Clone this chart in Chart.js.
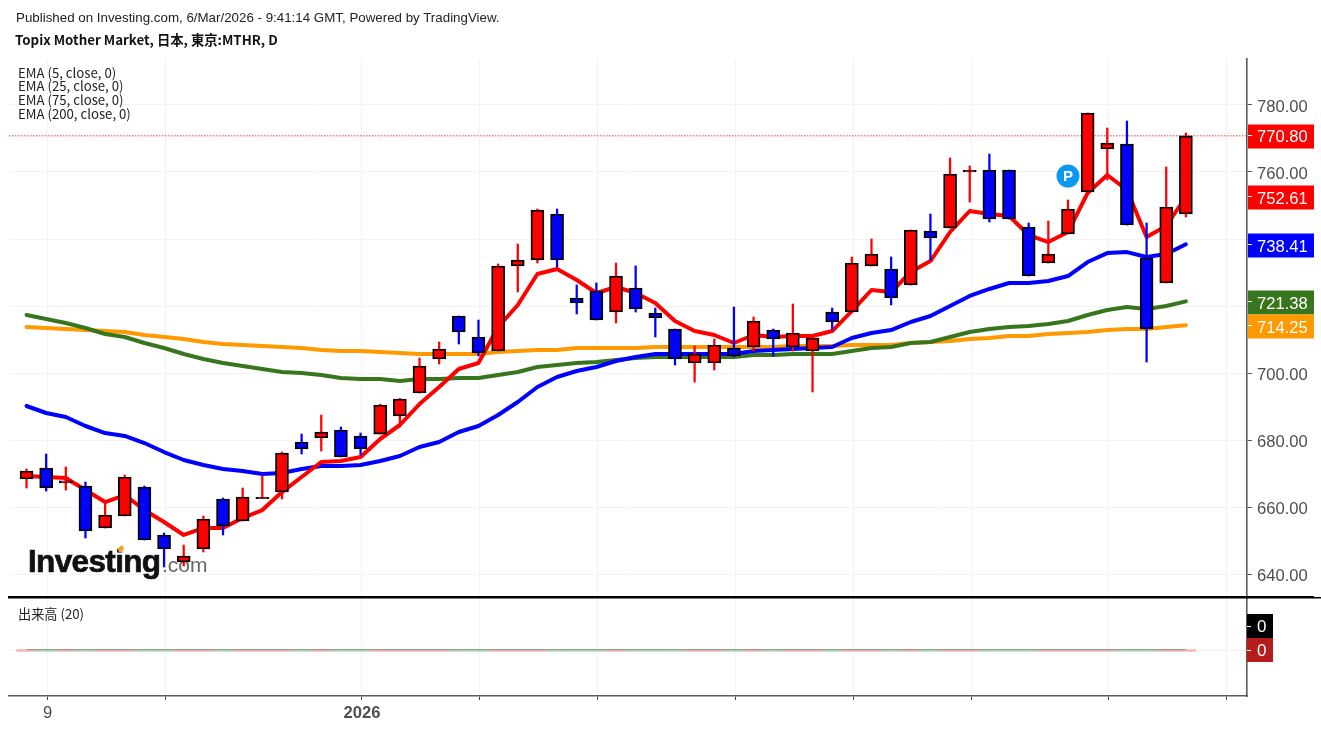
<!DOCTYPE html>
<html><head><meta charset="utf-8">
<script src="https://cdn.jsdelivr.net/npm/chart.js@4"></script>
<style>
html,body{margin:0;padding:0;background:#fff;width:1321px;height:729px;overflow:hidden}
canvas{position:absolute;left:0;top:0}
.t{position:absolute;white-space:nowrap;color:#222;line-height:14px}
</style></head><body>
<canvas id="c" width="1321" height="729"></canvas>
<div class="t" style="left:16px;top:11px;font:13.33px/14px 'Liberation Sans';color:#222">Published on Investing.com, 6/Mar/2026 - 9:41:14 GMT, Powered by TradingView.</div>
<div class="t" style="left:15px;top:32px;font:bold 13.33px/16px 'Noto Sans CJK JP';color:#111">Topix Mother Market, 日本, 東京:MTHR, D</div>
<div class="t" style="left:18px;top:66px;font:13.2px/14px 'Noto Sans CJK JP'">EMA (5, close, 0)</div>
<div class="t" style="left:18px;top:79px;font:13.2px/14px 'Noto Sans CJK JP'">EMA (25, close, 0)</div>
<div class="t" style="left:18px;top:93px;font:13.2px/14px 'Noto Sans CJK JP'">EMA (75, close, 0)</div>
<div class="t" style="left:18px;top:107px;font:13.2px/14px 'Noto Sans CJK JP'">EMA (200, close, 0)</div>
<div class="t" style="left:18px;top:607px;font:13.2px/14px 'Noto Sans CJK JP'">出来高 (20)</div>
<script>
const opens=[668.36,671.64,667.2,666.27,653.73,657.32,665.97,651.65,643.58,647.46,662.39,655.82,662.5,664.47,679.4,680.6,682.98,681.2,681.78,687.16,694.02,704.18,717.02,710.75,706.56,731.95,733.73,747.46,722.39,724.48,718.2,725.38,717.9,713.13,702.98,702.98,707.46,707.76,712.83,707.76,706.56,718.2,718.2,731.95,731.05,726.27,742.39,743.28,760,760.6,760.6,743.58,732.83,741.49,754.03,766.87,768.36,734.33,726.87,747.46];
const closes=[670.74,665.67,667.8,652.83,657.62,668.95,650.15,647.46,645.38,656.42,654.33,662.99,662.9,676.11,677.31,682.38,674.93,677.31,690.45,692.24,702.09,707.16,712.24,705.97,731.95,733.73,748.66,733.73,720.9,715.82,728.95,719.1,716.42,704.18,705.67,708.36,705.08,715.52,710.15,711.94,710.45,715.22,732.83,735.52,722.39,742.69,740.3,759.4,760.6,745.97,745.97,728.95,735.52,748.96,777.61,768.66,744.18,713.13,749.55,770.8];
const highs=[671.34,675.81,671.94,667.46,661.2,669.55,666.27,652.25,648.66,657.32,662.69,665.67,669.25,676.41,681.78,687.46,683.88,682.08,690.7,692.4,704.48,709.25,717.02,715.82,732.55,738.5,748.96,748.96,726.27,726.87,732.83,731.95,719.4,713.13,708.06,710.15,719.7,716.72,713.13,720.6,710.45,719.4,734.63,740,734.63,742.69,747.46,764.18,761.8,765.37,760.6,744.77,745.37,751.64,777.61,773.14,775.22,744.77,761.5,771.64];
const lows=[665.67,664.77,665.07,650.75,653.73,657.32,650.15,642.09,642.39,646.56,651.65,655.82,662.5,662.39,675.81,676.71,674.93,675.52,681.78,683.88,694.02,702.68,708.65,705.08,706.56,724.18,732.83,731.65,717.62,715.82,714.92,718.2,710.75,702.38,697.31,700.89,704.78,706.56,705.08,706.56,694.32,712.83,718.2,731.95,720.3,726.27,733.73,743.28,751.04,745.07,745.97,728.95,732.83,741.49,754.03,757.61,744.18,703.28,726.87,746.57];
const ema5=[669.25,668.95,668.65,665.07,661.49,663.58,659.1,655.52,651.65,653.73,653.73,656.72,659.1,664.47,668.95,673.43,673.73,674.93,680.3,684.48,690.74,695.82,701.19,702.98,713.73,720.3,729.55,731.05,727.76,723.88,725.67,723.88,720.9,715.52,712.53,711.34,708.95,711.34,710.75,711.04,711.04,712.53,718.5,724.78,724.18,730.15,733.43,742.09,748.36,747.46,746.86,741.19,739.1,742.09,753.73,759.1,754.63,740.6,743.88,752.61];
const ema25=[690.15,688.06,686.86,684.18,682.08,681.2,679.1,676.41,674.03,672.54,671.34,670.74,669.85,670.15,671.34,672.24,672.24,672.54,673.73,675.22,677.91,679.4,682.38,684.18,687.46,691.34,695.82,698.8,700.59,701.79,703.58,704.78,705.67,705.67,705.67,705.67,705.67,706.56,706.86,707.16,707.46,707.76,710.45,711.94,712.83,715.22,717.02,720,722.99,725.08,726.87,726.87,727.46,728.95,733.13,735.8,736.1,734.63,735.52,738.41];
const ema75=[717.31,716.12,714.92,713.43,711.64,710.75,708.95,707.46,705.67,704.18,702.98,702.09,701.19,700.3,700,699.4,698.51,698.21,698.21,697.61,698.21,698.21,698.51,698.51,699.4,700.3,701.79,702.38,702.98,703.28,703.88,704.48,704.78,704.78,704.78,704.78,704.78,705.37,705.37,705.67,705.67,705.67,706.56,707.46,707.76,708.95,709.25,710.75,712.24,713.13,713.73,714.03,714.63,715.52,717.31,718.8,719.7,719.1,720,721.38];
const ema200=[713.73,713.43,713.13,712.83,712.53,712.24,711.34,710.75,710.15,709.25,708.65,708.36,708.06,707.76,707.46,706.86,706.56,706.56,706.27,705.97,705.67,705.67,705.67,705.67,706.27,706.56,706.86,706.86,707.46,707.46,707.46,707.46,707.76,707.76,707.76,707.76,707.76,707.76,707.76,708.06,708.06,708.06,708.36,708.36,708.36,708.95,709.25,709.55,710.15,710.45,711.04,711.04,711.64,711.94,712.24,712.83,713.13,713.13,713.73,714.25];
const volumes=[0,0,0,0,0,0,0,0,0,0,0,0,0,0,0,0,0,0,0,0,0,0,0,0,0,0,0,0,0,0,0,0,0,0,0,0,0,0,0,0,0,0,0,0,0,0,0,0,0,0,0,0,0,0,0,0,0,0,0,0];
const volumeMA=[0.8,0.8,0.8,0.8,0.8,0.8,0.8,0.8,0.8,0.8,0.8,0.8,0.8,0.8,0.8,0.8,0.8,0.8,0.8,0.8,0.8,0.8,0.8,0.8,0.8,0.8,0.8,0.8,0.8,0.8,0.8,0.8,0.8,0.8,0.8,0.8,0.8,0.8,0.8,0.8,0.8,0.8,0.8,0.8,0.8,0.8,0.8,0.8,0.8,0.8,0.8,0.8,0.8,0.8,0.8,0.8,0.8,0.8,0.8,0.8];
const priceTicks=[640,660,680,700,720,740,760,780];
const timeTicks=[1.07,7.07,17.07,23.07,29.07,36.07,42.07,48.07,55.07,61.07];
const timeLabels=['9','','2026','','','','','','',''];
const boldLabel='2026';
const lastPrice=770.8;
const pivotIndex=53, pivotPrice=758.8;

const UP='#ff0000',DOWN='#0000ff',GRID='#f3f3f3',AXIS='#5a5a5a',TEXT='#4f4f4f';
const idx=opens.map((_,i)=>i);
const up=i=>closes[i]>=opens[i];
const xMin=-0.891,xMax=62.11;

const tags=[
 {v:lastPrice,t:'770.80',c:'#ff0000'},
 {v:ema5[59],t:'752.61',c:'#ff0000'},
 {v:ema25[59],t:'738.41',c:'#0000ff'},
 {v:ema75[59],t:'721.38',c:'#38761d'},
 {v:ema200[59],t:'714.25',c:'#ff9900'}
];

const logo={id:'logo',beforeDatasetsDraw(ch){
  const c=ch.ctx;c.save();
  c.filter='blur(0.7px)';
  c.fillStyle='#111';c.strokeStyle='#111';c.lineWidth=0.7;c.font='bold 31.5px "Liberation Sans"';c.letterSpacing='-0.65px';
  c.textAlign='left';c.textBaseline='alphabetic';
  c.fillText('Investing',28,572);c.strokeText('Investing',28,572);
  c.fillStyle='#f5a623';c.beginPath();c.ellipse(121,549,2.5,3.5,0.5,0,7);c.fill();
  c.fillStyle='#666';c.font='21px "Liberation Sans"';c.letterSpacing='0px';
  c.fillText('.com',162,572);
  c.restore();
}};

const labelNudge={id:'labelNudge',beforeDraw(ch){
  ch.scales.y.getLabelItems(ch.chartArea).forEach(it=>{it.options.translation[1]+=2.5;});
}};

const overlay={id:'overlay',afterDraw(ch){
  const c=ch.ctx,y=ch.scales.y;c.save();
  c.fillStyle='#000';c.fillRect(8,596,1306,2.5);c.fillRect(1314,597,7,1.5);
  c.font='16.6px "Liberation Sans"';c.textBaseline='middle';c.textAlign='left';
  tags.forEach((g,i)=>{
    const p=Math.floor(y.getPixelForValue(g.v));
    c.fillStyle=g.c;c.fillRect(1248,p-10.5,66,24);
    c.fillStyle='#fff';c.fillRect(1248,p,4,1);
    c.fillText(g.t,1257,p+(i?3:2));
  });
  c.fillStyle='#000';c.fillRect(1247,614,26,24);
  c.fillStyle='#b71c1c';c.fillRect(1247,638,26,24);
  c.fillStyle='#fff';c.fillRect(1247,626,4,1);c.fillRect(1247,650,4,1);
  c.font='17px "Liberation Sans"';c.fillText('0',1257,627);c.fillText('0',1257,651);
  const px=ch.scales.x.getPixelForValue(pivotIndex),py=y.getPixelForValue(pivotPrice);
  c.font='bold 15px "Liberation Sans"';c.textAlign='center';c.fillStyle='#fff';c.fillText('P',px,py+1);
  c.restore();
}};

const line=(data,color,order)=>({type:'line',yAxisID:'y',data:data.map((v,i)=>({x:i,y:v})),borderColor:color,borderWidth:4,pointRadius:0,tension:0,borderJoinStyle:'round',borderCapStyle:'round',order});

new Chart(document.getElementById('c'),{
 data:{datasets:[
  {type:'bar',yAxisID:'y',data:idx.map(i=>({x:i,y:[opens[i],closes[i]]})),barThickness:13,grouped:false,
   backgroundColor:idx.map(i=>up(i)?UP:DOWN),borderColor:'#000',borderWidth:1.9,borderSkipped:false,order:1},
  {type:'bar',yAxisID:'y',data:idx.map(i=>({x:i,y:[lows[i],highs[i]]})),barThickness:1.6,grouped:false,
   backgroundColor:idx.map(i=>up(i)?UP:DOWN),borderWidth:0,order:2},
  line(ema5,'#ff0000',3),
  line(ema25,'#0000ff',4),
  line(ema75,'#38761d',5),
  line(ema200,'#ff9900',6),
  {type:'line',yAxisID:'y',data:[{x:xMin,y:lastPrice},{x:xMax,y:lastPrice}],borderColor:'#e53935',borderWidth:1,borderDash:[1.5,1.5],pointRadius:0,order:7},
  {type:'scatter',yAxisID:'y',data:[{x:pivotIndex,y:pivotPrice}],pointRadius:11.5,pointBackgroundColor:'#0b98f2',pointBorderWidth:0,order:0},
  {type:'line',yAxisID:'v',data:volumeMA.map((v,i)=>({x:i,y:v})),borderColor:'#9a9a9a',borderWidth:1.2,pointRadius:0,order:8},
  {type:'bar',yAxisID:'v',data:volumes.map((v,i)=>({x:i,y:v})),barThickness:19.6,grouped:false,minBarLength:2,
   backgroundColor:idx.map(i=>up(i)?'#f6b9b9':'#b5e5b5'),borderWidth:0,order:9}
 ]},
 options:{
  responsive:false,animation:false,devicePixelRatio:1,
  layout:{autoPadding:false,padding:{top:59,left:9,right:0,bottom:0}},
  plugins:{legend:{display:false},tooltip:{enabled:false},title:{display:false}},
  scales:{
   x:{type:'linear',min:xMin,max:xMax,offset:false,
      afterBuildTicks(s){s.ticks=timeTicks.map(v=>({value:v}));},
      afterFit(s){s.height=33;s.paddingLeft=0;s.paddingRight=0;},
      grid:{offset:false,color:GRID,lineWidth:1,tickColor:'#444',tickLength:4,drawTicks:true},
      border:{color:AXIS,width:1.6},
      ticks:{autoSkip:false,maxRotation:0,minRotation:0,padding:3,color:TEXT,
        callback:(v,i)=>timeLabels[i],
        font:ctx=>({family:'"Liberation Sans"',size:16.6,weight:timeLabels[ctx.index]===boldLabel?'bold':'normal'})}},
   y:{type:'linear',position:'right',stack:'p',stackWeight:539,min:632.84,max:793.73,
      afterBuildTicks(s){s.ticks=priceTicks.map(v=>({value:v}));},
      afterFit(s){s.width=74;},
      grid:{color:GRID,lineWidth:1,tickColor:'#555',tickLength:5},
      border:{color:AXIS,width:1.6},
      ticks:{padding:5,color:TEXT,callback:v=>v===740?'':v.toFixed(2),font:{family:'"Liberation Sans"',size:16.6}}},
   v:{type:'linear',position:'right',stack:'p',stackWeight:98,min:-45.5,max:52.5,
      afterBuildTicks(s){s.ticks=[{value:0}];},
      afterFit(s){s.width=74;},
      grid:{color:GRID,lineWidth:1,drawTicks:false},
      border:{color:AXIS,width:1.6},
      ticks:{display:false}}
  }
 },
 plugins:[logo,labelNudge,overlay]
});
</script>
</body></html>
